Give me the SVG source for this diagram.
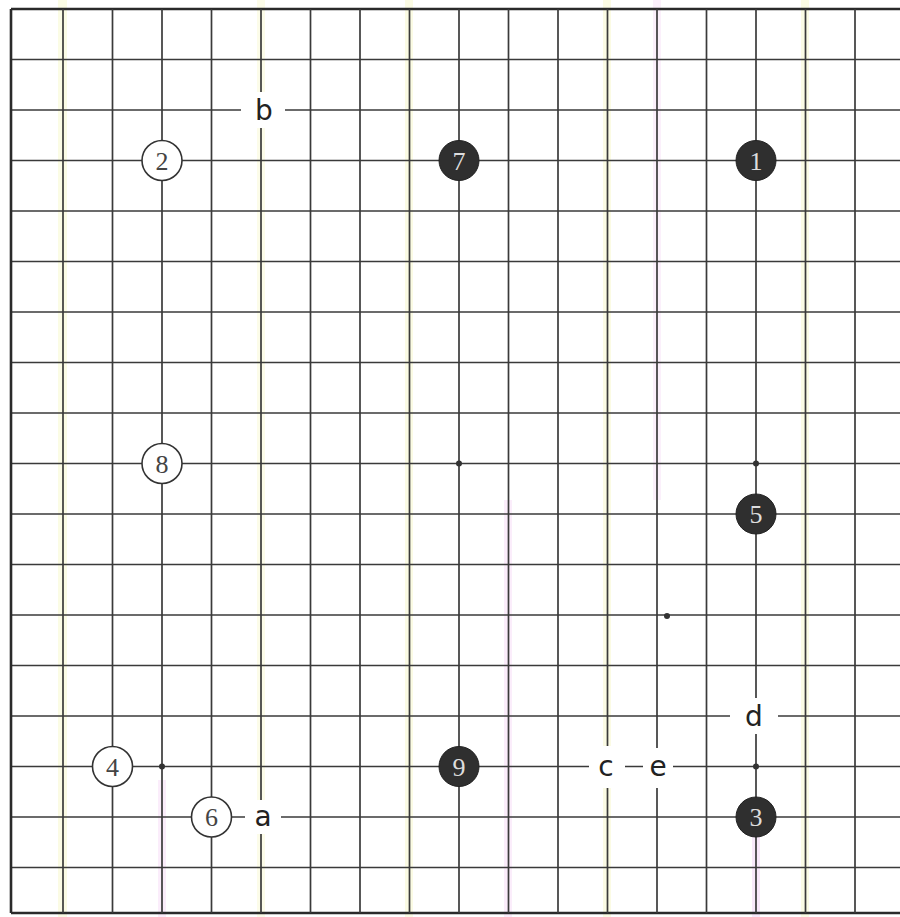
<svg xmlns="http://www.w3.org/2000/svg" width="900" height="917" viewBox="0 0 900 917">
<style>
.g{stroke:#3a3a3a;stroke-width:1.7;fill:none}
.edge{stroke:#2a2a2a;stroke-width:2.6;fill:none}
.star{fill:#333}
.w{fill:#fff;stroke:#333;stroke-width:1.6}
.b{fill:#2f2f2f;stroke:#222;stroke-width:1}
.nw{font-family:"Liberation Serif",serif;font-size:26px;fill:#444;text-anchor:middle}
.nb{font-family:"Liberation Serif",serif;font-size:26px;fill:#ddd;text-anchor:middle}
.lab{font-family:"DejaVu Sans","Liberation Sans",sans-serif;font-size:28px;fill:#222;text-anchor:middle}
.gap{fill:#fff}
.tint{opacity:0.22}
</style>
<rect x="0" y="0" width="900" height="917" fill="#fff"/>
<g id="tints" class="tint">
<rect x="58" y="0" width="9" height="917" fill="#eef08a"/>
<rect x="405" y="0" width="8" height="917" fill="#eef08a"/>
<rect x="257" y="0" width="8" height="917" fill="#f2f2a0"/>
<rect x="603" y="0" width="8" height="917" fill="#eef08a"/>
<rect x="801" y="0" width="8" height="917" fill="#eef08a"/>
<rect x="504" y="500" width="8" height="417" fill="#f0b0f0"/>
<rect x="653" y="0" width="8" height="500" fill="#f0c0f0"/>
<rect x="158" y="780" width="8" height="137" fill="#f0b0f0"/>
<rect x="752" y="830" width="8" height="87" fill="#e0a0f0"/>
</g>
<g id="connectors">
<g id="grid-h">
<line class="edge" x1="11" y1="9" x2="900" y2="9"/>
<line class="g" x1="11" y1="59.5" x2="900" y2="59.5"/>
<line class="g" x1="11" y1="110" x2="900" y2="110"/>
<line class="g" x1="11" y1="160.5" x2="900" y2="160.5"/>
<line class="g" x1="11" y1="211" x2="900" y2="211"/>
<line class="g" x1="11" y1="261.5" x2="900" y2="261.5"/>
<line class="g" x1="11" y1="312" x2="900" y2="312"/>
<line class="g" x1="11" y1="362.5" x2="900" y2="362.5"/>
<line class="g" x1="11" y1="413" x2="900" y2="413"/>
<line class="g" x1="11" y1="463.5" x2="900" y2="463.5"/>
<line class="g" x1="11" y1="514" x2="900" y2="514"/>
<line class="g" x1="11" y1="564.5" x2="900" y2="564.5"/>
<line class="g" x1="11" y1="615" x2="900" y2="615"/>
<line class="g" x1="11" y1="665.5" x2="900" y2="665.5"/>
<line class="g" x1="11" y1="716" x2="900" y2="716"/>
<line class="g" x1="11" y1="766.5" x2="900" y2="766.5"/>
<line class="g" x1="11" y1="817" x2="900" y2="817"/>
<line class="g" x1="11" y1="867.5" x2="900" y2="867.5"/>
<line class="edge" x1="11" y1="913" x2="900" y2="913"/>
</g>
<g id="grid-v">
<line class="edge" x1="11" y1="9" x2="11" y2="913"/>
<line class="g" x1="63" y1="9" x2="63" y2="913"/>
<line class="g" x1="112.5" y1="9" x2="112.5" y2="913"/>
<line class="g" x1="162" y1="9" x2="162" y2="913"/>
<line class="g" x1="211.5" y1="9" x2="211.5" y2="913"/>
<line class="g" x1="261" y1="9" x2="261" y2="913"/>
<line class="g" x1="310.5" y1="9" x2="310.5" y2="913"/>
<line class="g" x1="360" y1="9" x2="360" y2="913"/>
<line class="g" x1="409.5" y1="9" x2="409.5" y2="913"/>
<line class="g" x1="459" y1="9" x2="459" y2="913"/>
<line class="g" x1="508.5" y1="9" x2="508.5" y2="913"/>
<line class="g" x1="558" y1="9" x2="558" y2="913"/>
<line class="g" x1="607.5" y1="9" x2="607.5" y2="913"/>
<line class="g" x1="657" y1="9" x2="657" y2="913"/>
<line class="g" x1="706.5" y1="9" x2="706.5" y2="913"/>
<line class="g" x1="756" y1="9" x2="756" y2="913"/>
<line class="g" x1="805.5" y1="9" x2="805.5" y2="913"/>
<line class="g" x1="855" y1="9" x2="855" y2="913"/>
</g>
</g>
<g id="stars">
<circle class="star" cx="459" cy="463.5" r="3"/>
<circle class="star" cx="756" cy="463.5" r="3"/>
<circle class="star" cx="162" cy="766.5" r="3"/>
<circle class="star" cx="756" cy="766.5" r="3"/>
<circle class="star" cx="667" cy="616" r="3"/>
</g>
<g id="stone-2"><circle class="w" cx="162" cy="160.5" r="20"/><text class="nw" x="162" y="169.5">2</text></g>
<g id="stone-7"><circle class="b" cx="459" cy="160.5" r="20"/><text class="nb" x="459" y="169.5">7</text></g>
<g id="stone-1"><circle class="b" cx="756" cy="160.5" r="20"/><text class="nb" x="756" y="169.5">1</text></g>
<g id="stone-8"><circle class="w" cx="162" cy="463.5" r="20"/><text class="nw" x="162" y="472.5">8</text></g>
<g id="stone-5"><circle class="b" cx="756" cy="514" r="20"/><text class="nb" x="756" y="523">5</text></g>
<g id="stone-4"><circle class="w" cx="112.5" cy="766.5" r="20"/><text class="nw" x="112.5" y="775.5">4</text></g>
<g id="stone-9"><circle class="b" cx="459" cy="766.5" r="20"/><text class="nb" x="459" y="775.5">9</text></g>
<g id="stone-6"><circle class="w" cx="211.5" cy="817" r="20"/><text class="nw" x="211.5" y="826">6</text></g>
<g id="stone-3"><circle class="b" cx="756" cy="817" r="20"/><text class="nb" x="756" y="826">3</text></g>
<g id="label-b"><rect class="gap" x="241" y="92" width="44" height="36"/><text class="lab" x="264" y="120">b</text></g>
<g id="label-a"><rect class="gap" x="245" y="800" width="36" height="34"/><text class="lab" x="263" y="826">a</text></g>
<g id="label-c"><rect class="gap" x="589" y="746" width="36" height="42"/><text class="lab" x="606" y="776">c</text></g>
<g id="label-e"><rect class="gap" x="643" y="748" width="30" height="40"/><text class="lab" x="658" y="776">e</text></g>
<g id="label-d"><rect class="gap" x="730" y="698" width="48" height="36"/><text class="lab" x="754" y="726">d</text></g>
</svg>
